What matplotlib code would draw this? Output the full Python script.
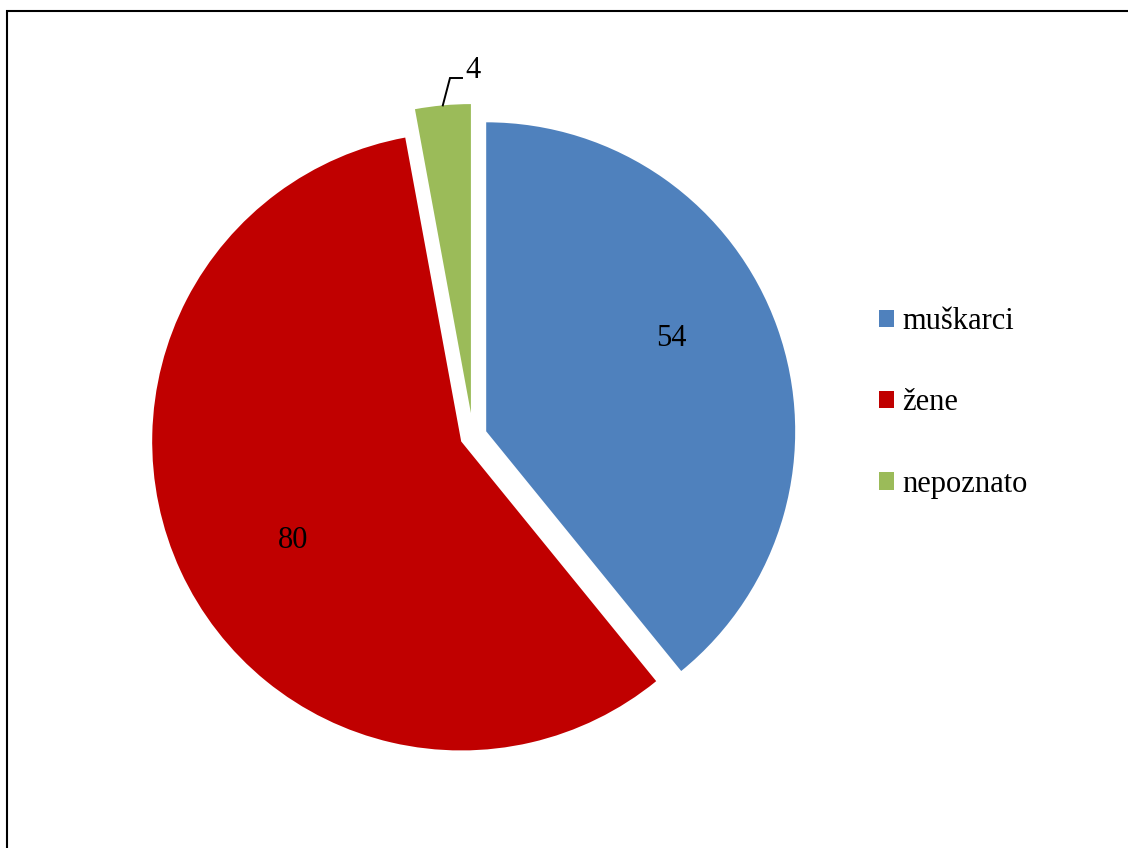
import numpy as np
import matplotlib
matplotlib.use("Agg")
import matplotlib.pyplot as plt
from matplotlib.lines import Line2D

plt.rcParams['font.family'] = ['Liberation Serif', 'DejaVu Serif']

# data
labels = ['muškarci', 'žene', 'nepoznato']
values = [54, 80, 4]
colors = ['#4F81BD', '#C00000', '#9BBB59']

W, H = 1128, 848
fig = plt.figure(figsize=(W / 100, H / 100), dpi=100)
ax = fig.add_axes([0, 0, 1, 1])

# pie laid out in pixel units (y up)
center = (473, 412)
radius = 309
explode = [14, 13, 23]

wedges, _ = ax.pie(values, colors=colors, startangle=90, counterclock=False,
                   center=center, radius=radius, explode=explode,
                   wedgeprops=dict(linewidth=0))
ax.set_xlim(0, W)
ax.set_ylim(0, H)
ax.set_aspect('equal')
ax.axis('off')

# value labels inside the two big slices
ax.text(671, H - 338, str(values[0]), ha='center', va='center', fontsize=22)
ax.text(293, H - 540, str(values[1]), ha='center', va='center', fontsize=22)

# small slice: label outside with a leader line from the arc midpoint
g = wedges[2]
mid = np.deg2rad((g.theta1 + g.theta2) / 2)
x0 = g.center[0] + g.r * np.cos(mid)
y0 = g.center[1] + g.r * np.sin(mid)
ax.plot([x0, 450, 462], [y0, H - 78, H - 78], color='black', lw=1.4,
        solid_joinstyle='miter')
ax.text(473, H - 70, str(values[2]), ha='center', va='center', fontsize=22)

ax.legend(wedges, labels, loc='center left', bbox_to_anchor=(879, H - 403),
          bbox_transform=ax.transData, frameon=False, fontsize=22,
          borderpad=0, borderaxespad=0, handlelength=0.5, handleheight=0.5,
          handletextpad=0.26, labelspacing=1.71)

# chart border (only left and top edges fall inside the image)
fig.add_artist(Line2D([7 / W, 7 / W, 1], [0, 1 - 11 / H, 1 - 11 / H],
                      transform=fig.transFigure, color='black', lw=1.5,
                      solid_joinstyle='miter'))

fig.savefig('out.png', dpi=100)
